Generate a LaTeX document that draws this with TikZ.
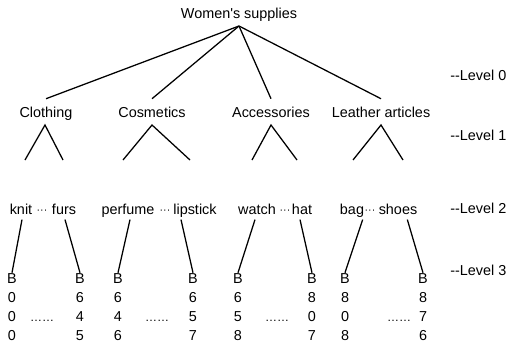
\documentclass[tikz,border=0pt]{standalone}
\usepackage{fontspec}
\setmainfont{Liberation Sans}[Ligatures=TeXOff]
\begin{document}
\begin{tikzpicture}[x=0.75pt,y=-0.75pt,
  every node/.style={inner sep=0pt, text height=0.75em, text depth=0.25em,
    font=\fontsize{10.8}{13}\selectfont},
  lbl/.style={anchor=base},
  lvl/.style={anchor=base west},
  dotsep/.style={anchor=base, font=\fontsize{8}{10}\selectfont, yshift=0.6pt},
  gap/.style={anchor=base, font=\fontsize{9}{11}\selectfont},
  edge/.style={line width=0.95pt}]
\useasboundingbox (0,0) rectangle (507,343);

% root and level 1
\node[lbl] (root) at (239,18) {Women's supplies};
\node[lbl] (cl) at (46,117) {Clothing};
\node[lbl] (co) at (152,117) {Cosmetics};
\node[lbl] (ac) at (271,117) {Accessories};
\node[lbl] (le) at (381,117) {Leather articles};

\foreach \n in {cl,co,ac,le}
  \draw[edge] ([yshift=-3.3pt]root.south) -- ([yshift=6pt]\n.north);

% branch points under each category and open branch ends
\coordinate (p1) at (45,125);  \coordinate (p2) at (152,125);
\coordinate (p3) at (271,125); \coordinate (p4) at (381,125);
\coordinate (e1) at (25,160);  \coordinate (e2) at (63,160);
\coordinate (e3) at (123,160); \coordinate (e4) at (190,160);
\coordinate (e5) at (252,160); \coordinate (e6) at (297,160);
\coordinate (e7) at (353,160); \coordinate (e8) at (403,160);
\draw[edge] (e1) -- (p1) -- (e2);
\draw[edge] (e3) -- (p2) -- (e4);
\draw[edge] (e5) -- (p3) -- (e6);
\draw[edge] (e7) -- (p4) -- (e8);

% level 2 words
\node[lbl] (knit) at (21,214) {knit};
\node[dotsep] (d1) at (42,214) {···};
\node[lbl] (furs) at (64,214) {furs};
\node[lbl] (perf) at (128,214) {perfume};
\node[dotsep] (d2) at (165,214) {···};
\node[lbl] (lips) at (195,214) {lipstick};
\node[lbl] (watch) at (257,214) {watch};
\node[dotsep] (d3) at (285,214) {···};
\node[lbl] (hat) at (302,214) {hat};
\node[lbl] (bag) at (352,214) {bag};
\node[dotsep] (d4) at (370,214) {···};
\node[lbl] (shoes) at (398,214) {shoes};

% level 3 columns
\foreach \x/\n/\a/\b/\c in {12/1/0/0/0, 80/2/6/4/5, 118/3/6/4/6, 193/4/6/5/7,
                            238/5/6/5/8, 312/6/8/0/7, 345/7/8/0/8, 423/8/8/7/6} {
  \node[lbl] (b\n) at (\x,283) {B};
  \node[lbl] (r\n a) at (\x,302) {\a};
  \node[lbl] (r\n b) at (\x,321) {\b};
  \node[lbl] (r\n c) at (\x,340) {\c};
}
\node[gap] (g1) at (42,321) {……};
\node[gap] (g2) at (157,321) {……};
\node[gap] (g3) at (277,321) {……};
\node[gap] (g4) at (399,321) {……};

\draw[edge] ([xshift=0.75pt,yshift=-1.5pt]knit.south) -- (b1.north);
\draw[edge] ([xshift=0.75pt,yshift=-1.5pt]furs.south) -- (b2.north);
\draw[edge] ([xshift=1.5pt,yshift=-1.5pt]perf.south) -- (b3.north);
\draw[edge] ([xshift=-10.5pt,yshift=-1.5pt]lips.south) -- (b4.north);
\draw[edge] ([xshift=-1.5pt,yshift=-1.5pt]watch.south) -- (b5.north);
\draw[edge] ([xshift=-1.5pt,yshift=-1.5pt]hat.south) -- (b6.north);
\draw[edge] ([xshift=8pt,yshift=-1.5pt]bag.south) -- (b7.north);
\draw[edge] ([xshift=7pt,yshift=-1.5pt]shoes.south) -- (b8.north);

% level markers
\node[lvl] (l0) at (450,80) {--Level 0};
\node[lvl] (l1) at (450,140) {--Level 1};
\node[lvl] (l2) at (450,213) {--Level 2};
\node[lvl] (l3) at (450,275) {--Level 3};
\end{tikzpicture}
\end{document}
